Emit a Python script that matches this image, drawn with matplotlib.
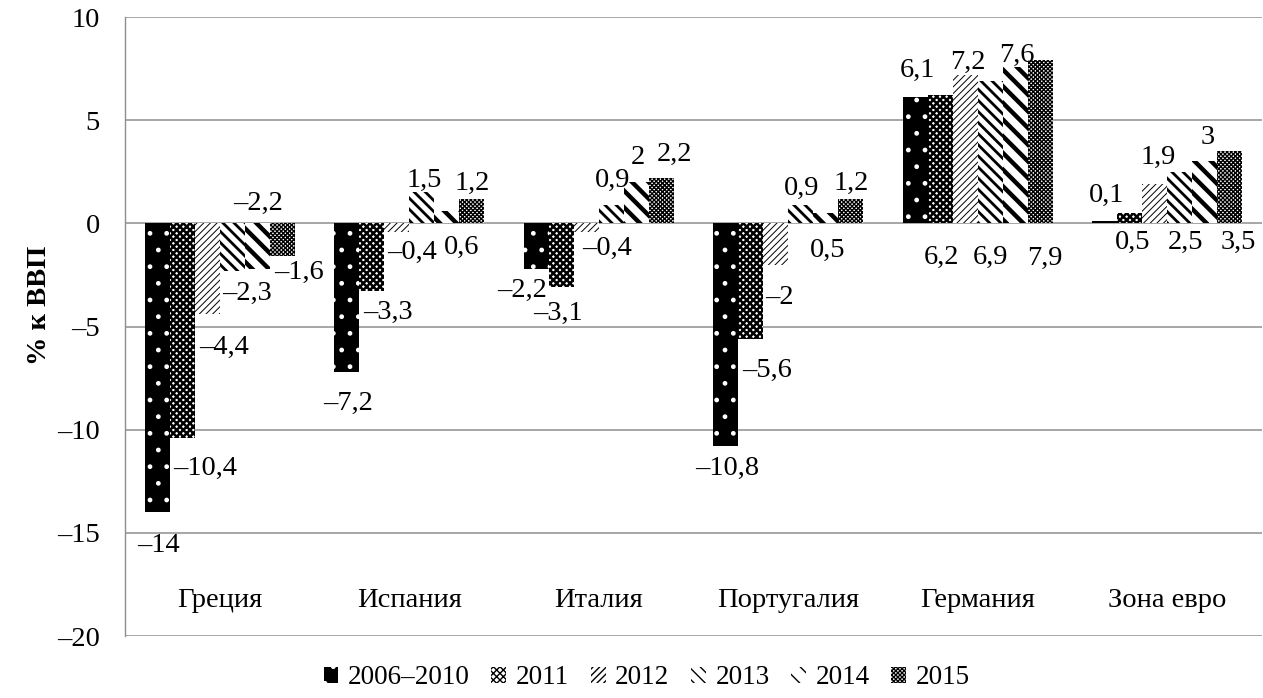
"""Сальдо текущего счёта, % к ВВП — столбчатая диаграмма со штриховкой."""

import matplotlib

matplotlib.use("Agg")
import matplotlib.pyplot as plt  # noqa: E402
import numpy as np  # noqa: E402
from matplotlib.ticker import FuncFormatter  # noqa: E402

countries = ["Греция", "Испания", "Италия", "Португалия", "Германия", "Зона евро"]
periods = ["2006–2010", "2011", "2012", "2013", "2014", "2015"]

v_2006_2010 = [-14, -7.2, -2.2, -10.8, 6.1, 0.1]
v_2011 = [-10.4, -3.3, -3.1, -5.6, 6.2, 0.5]
v_2012 = [-4.4, -0.4, -0.4, -2, 7.2, 1.9]
v_2013 = [-2.3, 1.5, 0.9, 0.9, 6.9, 2.5]
v_2014 = [-2.2, 0.6, 2, 0.5, 7.6, 3]
v_2015 = [-1.6, 1.2, 2.2, 1.2, 7.9, 3.5]
series = [v_2006_2010, v_2011, v_2012, v_2013, v_2014, v_2015]

y_ticks = [-20, -15, -10, -5, 0, 5, 10]

# bar styles: facecolor, hatch colour, hatch, hatch linewidth
STYLES = [
    ("black", "white", ".", 1.0),
    ("white", "black", "xxxxx", 1.8),
    ("white", "black", "/////", 0.7),
    ("white", "black", "\\\\\\", 2.0),
    ("white", "black", "\\\\", 3.2),
    ("white", "black", "xxxxxxxx", 1.0),
]

# label placement per series/country: anchor ("t" tip / "b" base), dx, dy in pixels
LABEL_POS = [
    [("t", 1, -33), ("t", 1, -31), ("t", -14, -22), ("t", 2, -22), ("t", 2, 27), ("t", 2, 26)],
    [("t", 23, -30), ("t", 16, -21), ("t", -3, -26), ("t", 16, -32), ("b", 1, -34), ("b", 3, -19)],
    [("t", 17, -33), ("t", 15, -21), ("t", 21, -17), ("t", 4, -33), ("t", 3, 12), ("t", 4, 27)],
    [("t", 15, -23), ("t", 3, 12), ("t", 1, 24), ("t", 1, 16), ("b", 0, -34), ("b", 6, -19)],
    [("t", 1, 65), ("t", 15, -36), ("t", 2, 25), ("t", 2, -37), ("t", 2, 11), ("t", 3, 24)],
    [("t", 17, -16), ("t", 1, 15), ("t", 13, 24), ("t", 1, 15), ("b", 5, -35), ("b", 9, -19)],
]

FS = 20.5
GRID = "#8e8e8e"


def fmt(v):
    s = f"{abs(v):g}".replace(".", ",")
    return ("–" + s) if v < 0 else s


plt.rcParams["font.family"] = ["Liberation Serif", "DejaVu Serif"]

fig = plt.figure(figsize=(12.63, 6.98), dpi=100)
ax = fig.add_axes([0.099, 0.0888, 0.9, 0.8868])

x = np.arange(len(countries))
width = 0.132
handles = []
for j, vals in enumerate(series):
    fc, hc, hatch, hlw = STYLES[j]
    with plt.rc_context({"hatch.linewidth": hlw}):
        bars = ax.bar(x + (j - 2.5) * width, vals, width, color=fc, edgecolor=hc,
                      hatch=hatch, linewidth=0, label=periods[j], zorder=3)
    for b in bars:
        if hasattr(b, "set_hatch_linewidth"):
            b.set_hatch_linewidth(hlw)
    handles.append(bars[0])
    for i, v in enumerate(vals):
        anchor, dx, dy = LABEL_POS[j][i]
        yy = v if anchor == "t" else 0
        ax.annotate(fmt(v), (x[i] + (j - 2.5) * width, yy), xytext=(dx, dy),
                    textcoords="offset pixels", ha="center", va="center",
                    fontsize=FS, zorder=4)

for i, name in enumerate(countries):
    ax.text(x[i], -18.27, name, ha="center", va="center", fontsize=FS)

ax.set_xlim(-0.5, len(countries) - 0.5)
ax.set_ylim(-20, 10)
ax.set_yticks(y_ticks)
ax.yaxis.set_major_formatter(FuncFormatter(lambda v, _: fmt(v)))
ax.set_xticks([])
ax.tick_params(axis="y", length=0, pad=18, labelsize=FS)
ax.grid(axis="y", color=GRID, lw=1.1, zorder=0)
ax.set_axisbelow(True)
for side in ("top", "right", "bottom"):
    ax.spines[side].set_visible(False)
ax.spines["left"].set_color(GRID)
ax.spines["left"].set_linewidth(1.0)

fig.text(0.031, 1 - 305 / 698, "% к ВВП", rotation=90, ha="center", va="center",
         fontsize=FS, fontweight="bold")

fig.legend(handles=handles, labels=periods, loc="center", bbox_to_anchor=(0.512, 0.029),
           ncol=6, frameon=False, fontsize=19.5, handlelength=0.55, handleheight=0.55,
           handletextpad=0.35, columnspacing=0.8, borderaxespad=0)

fig.savefig("out.png", dpi=100)
